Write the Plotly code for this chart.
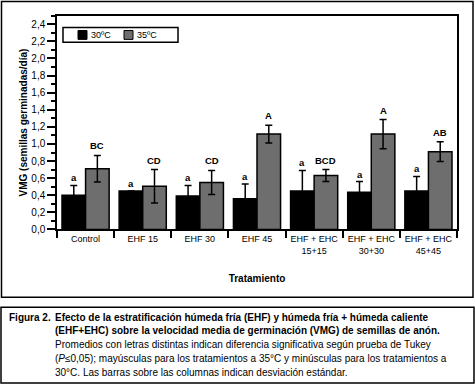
import plotly.graph_objects as go

categories = ["Control", "EHF 15", "EHF 30", "EHF 45",
              "EHF + EHC<br>15+15", "EHF + EHC<br>30+30", "EHF + EHC<br>45+45"]
vals_30 = [0.40, 0.45, 0.39, 0.36, 0.45, 0.435, 0.45]
sd_30 = [0.115, 0.0, 0.125, 0.17, 0.24, 0.125, 0.17]
vals_35 = [0.71, 0.505, 0.55, 1.115, 0.63, 1.115, 0.91]
sd_35 = [0.155, 0.195, 0.14, 0.105, 0.07, 0.17, 0.115]
letters_30 = ["a", "a", "a", "a", "a", "a", "a"]
letters_35 = ["BC", "CD", "CD", "A", "BCD", "A", "AB"]
series_names = ["30ºC", "35ºC"]
series_colors = ["#000000", "#6e6e6e"]
y_ticks = [0.0, 0.2, 0.4, 0.6, 0.8, 1.0, 1.2, 1.4, 1.6, 1.8, 2.0, 2.2, 2.4]
caption_lines = [
    "<b>Efecto de la estratificación húmeda fría (EHF) y húmeda fría + húmeda caliente</b>",
    "<b>(EHF+EHC) sobre la velocidad media de germinación (VMG) de semillas de anón.</b>",
    "Promedios con letras distintas indican diferencia significativa según prueba de Tukey",
    "(<i>P</i>≤0,05); mayúsculas para los tratamientos a 35°C y minúsculas para los tratamientos a",
    "30°C. Las barras sobre las columnas indican desviación estándar.",
]

FONT = "Liberation Sans, Arial, sans-serif"
W, H = 475, 391

fig = go.Figure()
for name, color, vals, sds in zip(series_names, series_colors, [vals_30, vals_35], [sd_30, sd_35]):
    fig.add_trace(go.Bar(
        x=categories, y=vals, name=name,
        marker=dict(color=color, line=dict(color="#000000", width=1.5)),
        error_y=dict(type="data", array=sds, color="#000000", thickness=1.5, width=3.5),
    ))

bar_px = 400 / 7 * (1 - 0.175) / 2
annotations = []
for c, v, s, t in zip(categories, vals_30, sd_30, letters_30):
    annotations.append(dict(x=c, y=v + s, xref="x", yref="y", text="<b>" + t + "</b>",
                            showarrow=False, xshift=-bar_px / 2, yanchor="bottom", yshift=0,
                            font=dict(family=FONT, size=9.5, color="#000")))
for c, v, s, t in zip(categories, vals_35, sd_35, letters_35):
    annotations.append(dict(x=c, y=v + s, xref="x", yref="y", text="<b>" + t + "</b>",
                            showarrow=False, xshift=bar_px / 2, yanchor="bottom", yshift=2,
                            font=dict(family=FONT, size=9.5, color="#000")))

# caption
annotations.append(dict(x=7 / W, y=1 - 322 / H, xref="paper", yref="paper", xanchor="left",
                        yanchor="middle", showarrow=False, align="left",
                        text="<b>Figura 2.</b>", font=dict(family=FONT, size=10, color="#000")))
for i, line in enumerate(caption_lines):
    annotations.append(dict(x=53 / W, y=1 - (322 + 14 * i) / H, xref="paper", yref="paper",
                            xanchor="left", yanchor="middle", showarrow=False, align="left",
                            text=line, font=dict(family=FONT, size=10, color="#000")))

shapes = [
    dict(type="rect", xref="paper", yref="paper", x0=1.5 / W, x1=473 / W,
         y0=1 - 302 / H, y1=1 - 1.5 / H, line=dict(color="#000", width=1.5)),
    dict(type="rect", xref="paper", yref="paper", x0=1 / W, x1=474 / W,
         y0=1 - 389 / H, y1=1 - 312 / H, line=dict(color="#000", width=1.5)),
    # legend frame
    dict(type="rect", xref="paper", yref="paper", x0=63 / W, x1=178 / W,
         y0=1 - 43 / H, y1=1 - 28 / H, fillcolor="white", line=dict(color="#000", width=1.5)),
]
# legend swatches and labels
for i, (name, color) in enumerate(zip(series_names, series_colors)):
    x0 = 78 + 46 * i
    shapes.append(dict(type="rect", xref="paper", yref="paper", x0=x0 / W, x1=(x0 + 9) / W,
                       y0=1 - 40 / H, y1=1 - 31 / H, fillcolor=color,
                       line=dict(color="#000", width=1)))
    annotations.append(dict(x=(x0 + 11) / W, y=1 - 35.5 / H, xref="paper", yref="paper",
                            xanchor="left", yanchor="middle", showarrow=False, text=name,
                            font=dict(family=FONT, size=9, color="#000")))

fig.update_layout(
    width=W, height=H,
    margin=dict(l=0, r=0, t=0, b=0),
    paper_bgcolor="white", plot_bgcolor="white",
    separators=",.",
    barmode="group", bargap=0.175, bargroupgap=0,
    font=dict(family=FONT, size=10, color="#000"),
    annotations=annotations, shapes=shapes,
    showlegend=False,
    xaxis=dict(domain=[57 / W, 457 / W], showline=True, linecolor="#000", linewidth=1.5,
               mirror=True, ticks="outside", tickson="boundaries", ticklen=7,
               tickcolor="#000", tickwidth=1.5, tickangle=0,
               tickfont=dict(family=FONT, size=9, color="#000"),
               title=dict(text="<b>Tratamiento</b>", font=dict(family=FONT, size=10), standoff=20)),
    yaxis=dict(domain=[1 - 233 / H, 1 - 16 / H], range=[0, 2.5], showline=True,
               linecolor="#000", linewidth=1.5, mirror=True, showgrid=False, zeroline=False,
               ticks="outside", ticklen=8, tickcolor="#000", tickwidth=1.5,
               tickvals=y_ticks, tickformat=".1f",
               minor=dict(dtick=0.1, ticks="outside", ticklen=4, tickcolor="#000", tickwidth=1.5),
               tickfont=dict(family=FONT, size=10, color="#000"),
               title=dict(text="<b>VMG (semillas germinadas/día)</b>", font=dict(family=FONT, size=10),
                          standoff=2)),
)

fig.write_html("out.html", config={"displayModeBar": False},
               post_script="document.body.style.margin='0';")
